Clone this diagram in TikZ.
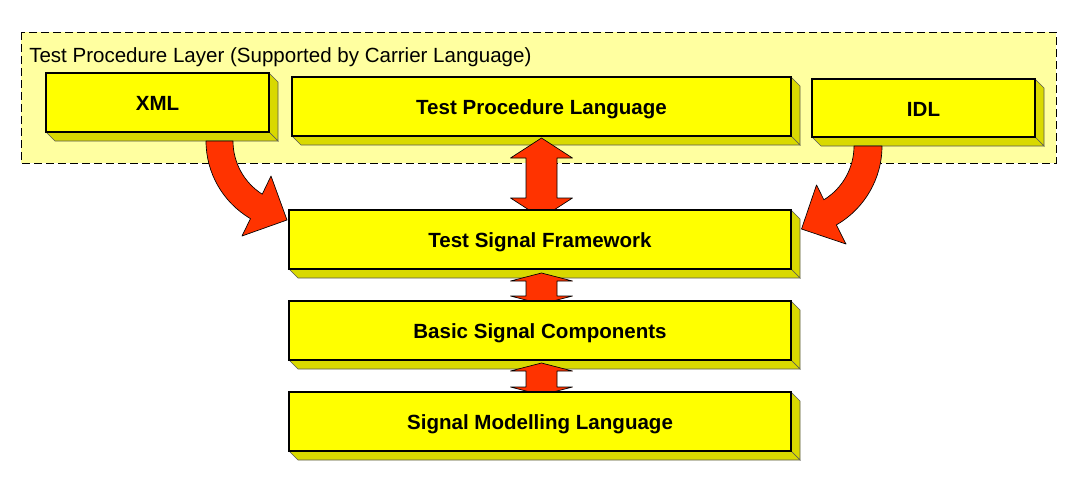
\documentclass[tikz,border=0pt]{standalone}
\usepackage{fontspec}
\setmainfont{Liberation Sans}
\usepackage{tikz}
\usetikzlibrary{positioning, calc, backgrounds}
\usepackage{xcolor}
\definecolor{boxyellow}{RGB}{255,255,0}
\definecolor{sideyellow}{RGB}{217,217,0}
\definecolor{layerfill}{RGB}{255,255,160}
\definecolor{arrowred}{RGB}{255,51,0}
\pgfdeclarelayer{arrows}
\pgfsetlayers{background,arrows,main}
\tikzset{
    box/.style={
        rectangle, draw=black, line width=0.9pt,
        fill=boxyellow, inner sep=0pt, outer sep=0pt,
        minimum height=59*0.75pt,
        text height=12.5pt, text depth=0pt,
        font=\fontsize{15.4}{18}\selectfont\bfseries
    },
    smallbox/.style={box, minimum width=223*0.75pt},
    widebox/.style={box, minimum width=502*0.75pt},
    side/.style={
        fill=sideyellow, draw=black!65, line width=0.5pt
    },
    layerbox/.style={
        draw=black, line width=0.6pt,
        dash pattern=on 6pt off 3pt,
        fill=layerfill
    },
    fatarrow/.style={
        fill=arrowred, draw=black, line width=0.5pt, line join=round
    }
}
% right and bottom faces of a box
\newcommand{\extrude}[1]{%
    \begin{scope}[on background layer]
        \filldraw[side] (#1.north east) -- ++(9,9) -- ($(#1.south east)+(9,9)$) -- (#1.south east) -- cycle;
        \filldraw[side] (#1.south west) -- ++(9,9) -- ($(#1.south east)+(9,9)$) -- (#1.south east) -- cycle;
    \end{scope}}
% vertical double arrow: top tip, bottom tip, head length
\newcommand{\dblarrow}[3]{%
    \draw[fatarrow] (#1) -- ($(#1)+(31,#3)$) -- ($(#1)+(15.5,#3)$)
        -- ($(#2)+(15.5,-#3)$) -- ($(#2)+(31,-#3)$) -- (#2)
        -- ($(#2)+(-31,-#3)$) -- ($(#2)+(-15.5,-#3)$)
        -- ($(#1)+(-15.5,#3)$) -- ($(#1)+(-31,#3)$) -- cycle;}

\begin{document}
\begin{tikzpicture}[x=0.75pt, y=-0.75pt]

\useasboundingbox (0,0) rectangle (1089,501);

% carrier language layer
\begin{scope}[on background layer]
    \draw[layerbox] (21,32) rectangle (1056,163);
\end{scope}
\node[anchor=base west, font=\fontsize{15.4}{18}\selectfont, inner sep=0pt] (layerlabel) at (29,62) {Test Procedure Layer (Supported by Carrier Language)};

\node[smallbox] (xml) at (157.5,102.5) {XML};
\node[box, minimum width=499*0.75pt] (tpl) at (541.5,106.5) {Test Procedure Language};
\node[smallbox, minimum height=58*0.75pt] (idl) at (923.5,108) {IDL};

\node[widebox] (tsf) at (540,239.5) {Test Signal Framework};
\node[widebox, below=24pt of tsf] (bsc) {Basic Signal Components};
\node[widebox, below=24pt of bsc] (sml) {Signal Modelling Language};

\extrude{xml}
\extrude{tpl}
\extrude{idl}
\extrude{tsf}
\extrude{bsc}
\extrude{sml}

\begin{pgfonlayer}{arrows}
    % curved arrows into the framework
    \draw[fatarrow] (206,141) arc[start angle=180, end angle=120.4, radius=90]
        -- (242,236) -- (287,220) -- (271,176) -- (262.24,194.19)
        arc[start angle=122.4, end angle=180, radius=63] -- cycle;
    \draw[fatarrow] (882,146) arc[start angle=0, end angle=60.1, radius=91]
        -- (846,244) -- (801.5,229) -- (816.5,185) -- (823.87,199.75)
        arc[start angle=58.55, end angle=0, radius=63] -- cycle;

    \coordinate (a1top) at ($(tpl.south)+(0,2)$);
    \coordinate (a1bot) at ($(a1top |- tsf.north)+(0,8)$);
    \coordinate (a2top) at ($(a1top |- tsf.south)+(0,4)$);
    \coordinate (a2bot) at ($(a1top |- bsc.north)+(0,3)$);
    \coordinate (a3top) at ($(a1top |- bsc.south)+(0,3)$);
    \coordinate (a3bot) at ($(a1top |- sml.north)+(0,3)$);
    \dblarrow{a1top}{a1bot}{20}
    \dblarrow{a2top}{a2bot}{8}
    \dblarrow{a3top}{a3bot}{8}
\end{pgfonlayer}

\end{tikzpicture}
\end{document}
